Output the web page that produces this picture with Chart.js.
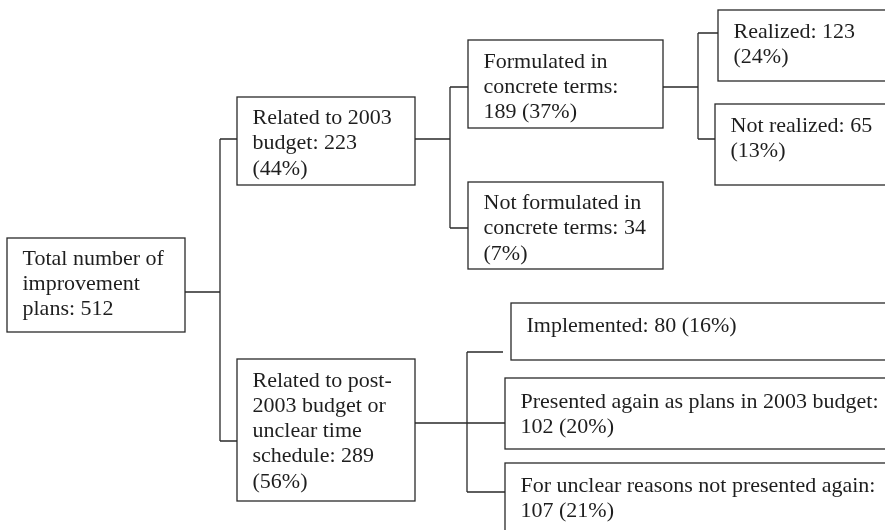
<!DOCTYPE html>
<html>
<head>
<meta charset="utf-8">
<script src="https://cdn.jsdelivr.net/npm/chart.js@4.4.0/dist/chart.umd.min.js"></script>
<style>
  body { margin: 0; background: #fff; }
  #wrap { width: 885px; height: 530px; position: relative; }
</style>
</head>
<body>
<div id="wrap"><canvas id="treeChart"></canvas></div>
<script>
// node data
var nodeLabels = [
  "Total number of improvement plans",
  "Related to 2003 budget",
  "Related to post-2003 budget or unclear time schedule",
  "Formulated in concrete terms",
  "Not formulated in concrete terms",
  "Realized",
  "Not realized",
  "Implemented",
  "Presented again as plans in 2003 budget",
  "For unclear reasons not presented again"
];
var nodeCounts = [512, 223, 289, 189, 34, 123, 65, 80, 102, 107];
var nodeShares = [null, 44, 56, 37, 7, 24, 13, 16, 20, 21];
var nodeParents = [-1, 0, 0, 1, 1, 3, 3, 2, 2, 2];

// layout (in axis units, axes run 0..885 and 0..530)
var boxes = [
  [7, 238, 185, 332],
  [237, 97, 415, 185],
  [237, 359, 415, 501],
  [468, 40, 663, 128],
  [468, 182, 663, 269],
  [718, 10, 900, 81],
  [715, 104, 900, 185],
  [511, 303, 900, 360],
  [505, 378, 900, 449],
  [505, 463, 900, 545]
];
var linkInY = [null, 139, 441, 87, 228, 33, 139, 352, 423, 492];
var linkEndX = [null, null, null, null, null, null, null, 503, null, null];
var linkOutY = [292, 139, 423, 87, null, null, null, null, null, null];
var spineX = [220, 450, 467, 698, null, null, null, null, null, null];
var wrapWidth = [150, 148, 148, 160, 168, 140, 150, 400, 372, 372];
var textTop = [21, 21.5, 22, 22, 21.5, 22.5, 22, 23, 24, 23];

var FONT = "22px 'Liberation Serif', 'Times New Roman', serif";
var LINE_H = 25.2;

function nodeText(i) {
  var t = nodeLabels[i] + ": " + nodeCounts[i];
  if (nodeShares[i] != null) t += " (" + nodeShares[i] + "%)";
  return t;
}

function wrapText(ctx, text, maxW) {
  // split on spaces, and allow a break after a hyphen
  var tokens = [];
  text.split(" ").forEach(function (w, k) {
    var parts = w.split(/(?<=-)/);
    parts.forEach(function (p, j) {
      tokens.push({ t: p, sp: k > 0 && j == 0 });
    });
  });
  var lines = [];
  var cur = "";
  tokens.forEach(function (tk) {
    var test = cur == "" ? tk.t : cur + (tk.sp ? " " : "") + tk.t;
    if (cur != "" && ctx.measureText(test).width > maxW) {
      lines.push(cur);
      cur = tk.t;
    } else {
      cur = test;
    }
  });
  if (cur != "") lines.push(cur);
  return lines;
}

var treePlugin = {
  id: "tree",
  afterDraw: function (chart) {
    var ctx = chart.ctx;
    var xs = chart.scales.x;
    var ys = chart.scales.y;
    var px = function (v) { return xs.getPixelForValue(v); };
    var py = function (v) { return ys.getPixelForValue(v); };
    ctx.save();
    ctx.strokeStyle = "#2a2a2a";
    ctx.lineWidth = 1.3;

    // connectors
    for (var p = 0; p < nodeLabels.length; p++) {
      var kids = [];
      for (var c = 0; c < nodeParents.length; c++) if (nodeParents[c] == p) kids.push(c);
      if (!kids.length) continue;
      var sx = px(spineX[p]);
      ctx.beginPath();
      ctx.moveTo(px(boxes[p][2]), py(linkOutY[p]));
      ctx.lineTo(sx, py(linkOutY[p]));
      var ysKids = kids.map(function (k) { return linkInY[k]; });
      ctx.moveTo(sx, py(Math.min.apply(null, ysKids)));
      ctx.lineTo(sx, py(Math.max.apply(null, ysKids)));
      kids.forEach(function (k) {
        var endX = linkEndX[k] != null ? linkEndX[k] : boxes[k][0];
        ctx.moveTo(sx, py(linkInY[k]));
        ctx.lineTo(px(endX), py(linkInY[k]));
      });
      ctx.stroke();
    }

    // boxes and text
    ctx.font = FONT;
    ctx.fillStyle = "#1e1e1e";
    ctx.textBaseline = "middle";
    ctx.textAlign = "left";
    for (var i = 0; i < nodeLabels.length; i++) {
      var b = boxes[i];
      var x0 = px(b[0]), y0 = py(b[1]), x1 = px(b[2]), y1 = py(b[3]);
      ctx.strokeRect(x0, y0, x1 - x0, y1 - y0);
      var lines = wrapText(ctx, nodeText(i), wrapWidth[i]);
      lines.forEach(function (ln, j) {
        ctx.fillText(ln, x0 + 15.5, y0 + textTop[i] + j * LINE_H);
      });
    }
    ctx.restore();
  }
};

new Chart(document.getElementById("treeChart"), {
  type: "scatter",
  data: {
    datasets: [{
      label: "nodes",
      data: boxes.map(function (b, i) { return { x: b[0], y: linkInY[i] != null ? linkInY[i] : linkOutY[i] }; }),
      pointRadius: 0,
      showLine: false
    }]
  },
  options: {
    responsive: true,
    maintainAspectRatio: false,
    animation: false,
    layout: { padding: 0 },
    plugins: {
      legend: { display: false },
      tooltip: { enabled: false }
    },
    scales: {
      x: { type: "linear", min: 0, max: 885, display: false },
      y: { type: "linear", min: 0, max: 530, reverse: true, display: false }
    }
  },
  plugins: [treePlugin]
});
</script>
</body>
</html>
